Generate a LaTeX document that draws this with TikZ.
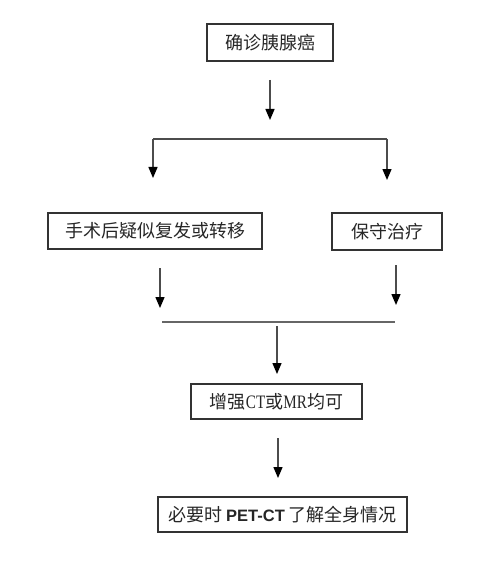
\documentclass[tikz,border=0pt]{standalone}
\usepackage{fontspec}
\setmainfont{Liberation Serif}
\newfontfamily\cjk{Noto Sans CJK SC}
\newfontfamily\lsans{Liberation Sans}
\newfontfamily\narrowserif[FakeStretch=0.8]{Liberation Serif}
\usetikzlibrary{arrows.meta}
\tikzset{
  boxnode/.style={draw=black!80, line width=1.2pt, inner sep=0pt, minimum height=36pt,
    text=black!85, font=\cjk\fontsize{18}{18}\selectfont},
  conn/.style={draw=black!70, line width=1.4pt},
  arr/.style={conn, -{Triangle[width=9pt,length=11pt,fill=black,color=black]}},
  barline/.style={draw=black!60, line width=2.4pt}
}
\begin{document}
\begin{tikzpicture}[x=1pt,y=-1pt]
\useasboundingbox (0,0) rectangle (500,564);
\node[boxnode, minimum width=126pt, minimum height=37pt] (b1) at (270,42.5) {确诊胰腺癌};
\node[boxnode, minimum width=214pt] (b2) at (155,231) {手术后疑似复发或转移};
\node[boxnode, minimum width=110pt, minimum height=37pt] (b3) at (387,231.5) {保守治疗};
\node[boxnode, minimum width=171pt, minimum height=35pt] (b4) at (276.5,401.5) {增强{\narrowserif\fontsize{19}{19}\selectfont CT}或{\narrowserif\fontsize{19}{19}\selectfont MR}均可};
\node[boxnode, minimum width=249pt, minimum height=35pt] (b5) at (282.5,514.5) {必要时 {\lsans\bfseries\fontsize{16.5}{16.5}\selectfont PET-CT} 了解全身情况};
% coordinates
\coordinate (a1s) at (270,80);
\coordinate (a1e) at (270,120);
\coordinate (sl) at (153,139);
\coordinate (sr) at (387,139);
\coordinate (slend) at (153,178);
\coordinate (srend) at (387,180);
\coordinate (l2s) at (160,268);
\coordinate (l2e) at (160,308);
\coordinate (r2s) at (396,265);
\coordinate (r2e) at (396,305);
\coordinate (ml) at (162,322);
\coordinate (mr) at (395,322);
\coordinate (m3s) at (277,326);
\coordinate (m3e) at (277,374);
\coordinate (a4s) at (278,438);
\coordinate (a4e) at (278,478);
% connectors
\draw[arr] (a1s) -- (a1e);
\draw[conn] (sl) -- (sr);
\draw[arr] (sl) -- (slend);
\draw[arr] (sr) -- (srend);
\draw[arr] (l2s) -- (l2e);
\draw[arr] (r2s) -- (r2e);
\draw[barline] (ml) -- (mr);
\draw[arr] (m3s) -- (m3e);
\draw[arr] (a4s) -- (a4e);
\end{tikzpicture}
\end{document}
